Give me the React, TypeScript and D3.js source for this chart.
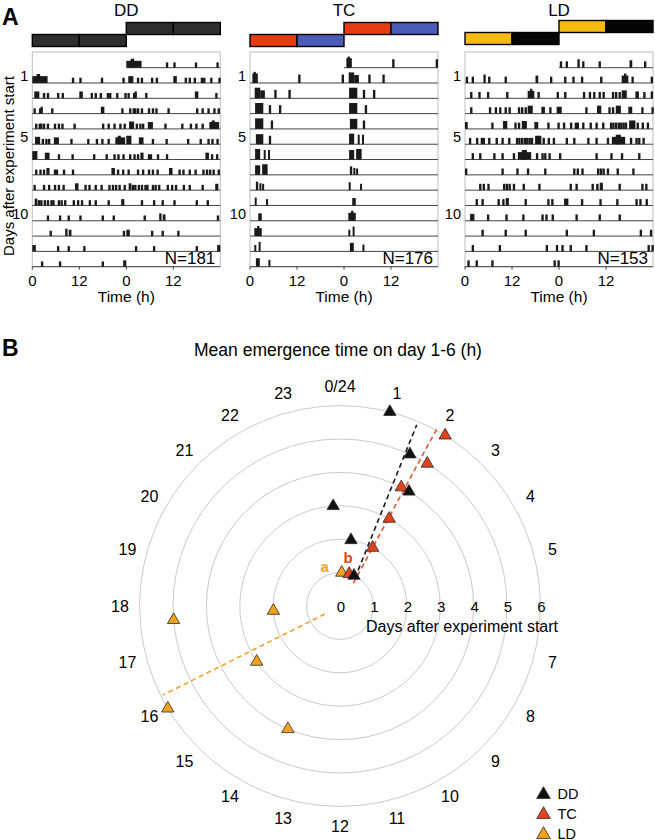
import React from "react";
import * as d3 from "d3";

// ---------- Panel A data: activity bouts per day, [hour, widthHours, level] or hour (thin tick) ----------
type Bar = number | [number, number, number];

const DD_DAYS: Bar[][] = [
  [[0, 3.9, 1.3], [1.1, 0.9, 1.7], 10.1, 12, 17.5, 23],
  [[0.5, 1.3, 1.3], 2.7, 3.7, 6.3, 7.5, [12, 0.9, 1.3], 14.9, 15.9, 17.2, 19, 19.6, 21.4, 23.5],
  [0.3, 1.7, [2.1, 0.6, 1.3], 4.8, [17.5, 0.9, 1.3], 22.7],
  [0.7, 1.6, 2, 2.7, 3.7, 5.5, 6.5, 7.4, 10.5, 17.8, 19.2, 20.7, 22.2, 23.3],
  [[0.7, 1.3, 1.4], 2.4, 3.3, 4, [5.5, 1.3, 1.3], 9.7, 14, 16.2, 17.6, 19.2, [21.2, 2.5, 1.3], [21.8, 0.8, 1.6]],
  [[0, 1.3, 1.6], [3.2, 1.2, 1.3], 6.5, 10, 15.5, 18.7, 20.7, 21.7, 23],
  [0.7, 1.8, 2.7, [3.6, 0.8, 1.3], 5.5, 6, 7.8, 10.1, [20.2, 0.9, 1.3], 21.6, 22.9],
  [0.3, 2.7, 4, 5.5, 6.5, 7.7, [10.9, 0.9, 1.3], 13.3, 14.3, 15.9, 17.4, 19.4, 20.3, 21.1, 22, 23.3],
  [[0.6, 0.7, 1.3], 1.4, 2, 2.9, 3.7, 4.6, 5.1, 6.5, 7.2, 8.1, 10.3, 11.4, 12.4, 14.4, 15.9, 19.2, [22.7, 0.8, 1.2]],
  [3.7, 6.8, 9, 12, 17.7, 20.5],
  [4.4, [8.4, 0.6, 1.4], [9.3, 0.7, 1.2], 23.1],
  [[0, 0.9, 1.2], 6.3, 9, 13],
  [2.2, 6.8, 17.7, [23.2, 0.8, 1.2]],
];

const TC_DAYS: Bar[][] = [
  [[0.6, 1.4, 1.8], [0.9, 0.6, 2.1], 12.3, 23.4],
  [[1.2, 1.4, 2], [2.6, 1.2, 1.5], 6.2, 9.8],
  [[1.3, 2.1, 2], 4.8, 7.4],
  [[1.3, 2.1, 2], 5.3],
  [[1.5, 1.9, 1.9], 4.8],
  [[1.3, 1.3, 2], [3.5, 0.5, 1.8], [4.6, 0.5, 1.8]],
  [[1.3, 1.3, 1.8], [3.1, 1.4, 2]],
  [[1.5, 0.6, 1.6], [2.4, 0.5, 1.3], [3.1, 0.5, 1.2]],
  [[1.2, 0.5, 1.5], [4.1, 0.5, 1.2]],
  [[2.1, 0.9, 1.4]],
  [[1.1, 1.9, 1.5], [1.8, 0.6, 1.9]],
  [[1.1, 0.5, 1.2], [2.2, 0.5, 1.8]],
  [[1.5, 1, 1.6], [4.7, 0.5, 1.3]],
];

const LD_DAYS: Bar[][] = [
  [0.2, 1.7, [4.7, 0.6, 1.6], 5.9, 10.1, [18, 0.7, 1.4], 21.7],
  [1.3, 3.4, 5.6, 10.5, [16, 1.7, 1.4], [16.6, 0.6, 1.8], 18.5, 23.4],
  [1.3, 6.1, 7.6, 8.7, 10.1, 11.1, 13.5, 14.3, 15.2, [16, 1.3, 1.5], [19.5, 0.9, 1.3], 21.5, [23.4, 0.6, 1.3]],
  [[0, 0.7, 1.3], 6.7, [9.7, 1.1, 1.5], 12.6, 13.5, [14.5, 1.3, 1.5], [17.7, 1, 1.3], 21, 23.6],
  [1, 2.8, 4, 4.5, 5.9, 7.8, 9.3, 11, 13, 13.6, 14.3, 15, 15.6, 16.2, 16.8, [17.9, 1.6, 1.6], 19.8, 21.1, 22.4],
  [1.7, 3.6, 7.2, 9.3, 12.2, [13.5, 3.4, 1.4], [14.5, 1.3, 1.8], 18.1, 19.5, 20.2, 21.3],
  [[0, 0.6, 1.2], 9.3, 13.1, 15.8, 20.2],
  [3.6, 4.5, 5.7, 9.7, 10.4, 11.1, 12.2, 14.7, 18.7],
  [2.7, 4.2, 8.3, 9.5, [10.4, 0.8, 1.4], 15.2, 21, 22],
  [[1.3, 1.1, 1.3], 5.6, 10.3, 14.6, 19.5, 20.5, 22.1],
  [4.2, 10.1, 15.2],
  [1.7, 8.6, 20.6, 23.2],
  [0.6, 2.7, 6.7, 22.6, 23.6],
];

const PANEL_NAMES = ["DD", "TC", "LD"];
const PANEL_N = [181, 176, 153];
const PANEL_DATA = [DD_DAYS, TC_DAYS, LD_DAYS];
const PANEL_PHASE_COLORS = [
  ["#2e2e2e", "#2e2e2e"],
  ["#e63c14", "#4b5cb6"],
  ["#f6b90f", "#050505"],
];
const TIME_TICKS = [0, 12, 24, 36];
const TIME_TICK_LABELS = ["0", "12", "0", "12"];
const ROW_LABELS: [number, string][] = [[1, "1"], [5, "5"], [10, "10"]];
const N_ROWS = 14;

// ---------- Panel B data ----------
const DAYS = [1, 2, 3, 4, 5, 6];
const DD_HOURS = [1.65, 0.63, 23.74, 2.07, 1.65, 0.96];
const TC_HOURS = [1.06, 1.95, 1.96, 1.82, 2.1, 2.11];
const LD_HOURS = [0.2, 17.73, 15.75, 13.53, 17.68, 15.95];
const DD_FIT: [number, number][] = [[0.95, 1.88], [5.89, 1.53]];
const TC_FIT: [number, number][] = [[0.79, 2.03], [6.03, 1.91]];
const LD_FIT: [number, number][] = [[0.51, 16.13], [5.94, 16.22]];
const HOUR_TICKS = d3.range(0, 24).filter((h) => h !== 6);
const DAY_TICKS = [0, 1, 2, 3, 4, 5, 6];
const GROUPS = ["DD", "TC", "LD"];

const FONT = "'Liberation Sans', Arial, Helvetica, sans-serif";
const COL = { DD: "#111111", TC: "#e2421c", LD: "#f2a31b" };

function Actogram({ idx }: { idx: number }) {
  const x0s = [32.3, 250, 465];
  const x0 = x0s[idx];
  const days = PANEL_DATA[idx];
  const x = d3.scaleLinear().domain([0, 48]).range([x0, x0 + 188]);
  const y = d3.scaleLinear().domain([0, N_ROWS - 1]).range([67.7, 266.7]);
  const H = 5.3;
  const defLevel = idx === 1 ? 1.6 : idx === 2 ? 1.2 : 1;
  const barTop = idx === 2 ? 20.5 : 22.5;
  const phase = PANEL_PHASE_COLORS[idx];

  const drawDay = (day: Bar[], offset: number, row: number, key: string) =>
    day.map((b, i) => {
      const [h, w, lv] = typeof b === "number" ? [b, 0.6, defLevel] : b;
      const bx = x(offset + h);
      const bw = Math.max(2, x(offset + h + w) - bx);
      const bh = lv * H;
      return <rect key={key + i} x={bx} y={y(row) - bh} width={bw} height={bh} fill="#1a1a1a" />;
    });

  return (
    <g>
      <text x={x(24)} y={16} textAnchor="middle" fontSize={17} fontFamily={FONT}>
        {PANEL_NAMES[idx]}
      </text>
      {/* light regime bars */}
      {[0, 1].map((half) =>
        [0, 1].map((seg) => (
          <rect
            key={`p${half}${seg}`}
            x={x(half * 24 + seg * 12)}
            y={barTop + (half === 0 ? 12 : 0)}
            width={x(12) - x(0)}
            height={12}
            fill={phase[seg]}
            stroke="#000"
            strokeWidth={1.4}
          />
        ))
      )}
      {/* frame */}
      <rect x={x(0)} y={52} width={x(48) - x(0)} height={y(N_ROWS - 1) - 52} fill="none" stroke="#bdbdbd" strokeWidth={1} />
      {/* baselines */}
      {d3.range(N_ROWS).map((r) => (
        <line key={"b" + r} x1={r === 0 ? x(24) : x(0)} x2={x(48)} y1={y(r)} y2={y(r)} stroke="#444" strokeWidth={1} />
      ))}
      {/* bars (double plotted) */}
      {d3.range(N_ROWS).map((r) => (
        <g key={"r" + r}>
          {r >= 1 && days[r - 1] ? drawDay(days[r - 1], 0, r, `L${r}-`) : null}
          {r < N_ROWS - 1 && days[r] ? drawDay(days[r], 24, r, `R${r}-`) : null}
        </g>
      ))}
      {/* ticks */}
      {TIME_TICKS.map((t, i) => (
        <g key={"t" + i}>
          <line x1={x(t)} x2={x(t)} y1={y(N_ROWS - 1)} y2={y(N_ROWS - 1) + 3} stroke="#444" />
          <text x={x(t)} y={286} textAnchor="middle" fontSize={15} fontFamily={FONT}>
            {TIME_TICK_LABELS[i]}
          </text>
        </g>
      ))}
      <text x={x(24)} y={302} textAnchor="middle" fontSize={15.5} fontFamily={FONT}>
        Time (h)
      </text>
      {ROW_LABELS.map(([r, lab]) => (
        <text key={"rl" + r} x={x0 - 4} y={y(r) - 7} textAnchor="end" dominantBaseline="central" fontSize={14.5} fontFamily={FONT}>
          {lab}
        </text>
      ))}
      <text x={x(48) - 5} y={263.5} textAnchor="end" fontSize={17} fontFamily={FONT}>
        {`N=${PANEL_N[idx]}`}
      </text>
    </g>
  );
}

function Polar() {
  const cx = 340;
  const cy = 606;
  const r = d3.scaleLinear().domain([0, 6]).range([0, 200.4]);
  const ang = d3.scaleLinear().domain([0, 24]).range([0, 2 * Math.PI]);
  const pos = (day: number, hour: number): [number, number] => [
    cx + r(day) * Math.sin(ang(hour)),
    cy - r(day) * Math.cos(ang(hour)),
  ];
  const tri = d3.symbol().type(d3.symbolTriangle).size(66)() as string;
  const triL = d3.symbol().type(d3.symbolTriangle).size(80)() as string;
  const line = d3.line();
  const series: [string, number[], [number, number][]][] = [
    ["LD", LD_HOURS, LD_FIT],
    ["TC", TC_HOURS, TC_FIT],
    ["DD", DD_HOURS, DD_FIT],
  ];
  const aPos = pos(DAYS[0], LD_HOURS[0]);
  const bPos = pos(DAYS[0], TC_HOURS[0]);
  return (
    <g>
      <text x={cx - 2} y={356} textAnchor="middle" fontSize={17.5} fontFamily={FONT}>
        Mean emergence time on day 1-6 (h)
      </text>
      {DAY_TICKS.filter((d) => d > 0).map((d) => (
        <circle key={"c" + d} cx={cx} cy={cy} r={r(d)} fill="none" stroke="#cacaca" strokeWidth={1} />
      ))}
      {HOUR_TICKS.map((h) => {
        const [tx, ty] = [cx + 220 * Math.sin(ang(h)), cy - 220 * Math.cos(ang(h))];
        return (
          <text key={"h" + h} x={tx} y={ty} textAnchor="middle" dominantBaseline="central" fontSize={16} fontFamily={FONT}>
            {h === 0 ? "0/24" : String(h)}
          </text>
        );
      })}
      {DAY_TICKS.map((d) => (
        <text key={"d" + d} x={cx + r(d) + 1} y={cy} textAnchor="middle" dominantBaseline="central" fontSize={15} fontFamily={FONT}>
          {d}
        </text>
      ))}
      <text x={cx + 122} y={632} textAnchor="middle" fontSize={16} fontFamily={FONT}>
        Days after experiment start
      </text>
      {series.map(([g, , fit]) => (
        <path
          key={"f" + g}
          d={line(fit.map(([d, h]) => pos(d, h))) as string}
          fill="none"
          stroke={g === "DD" ? "#1a1a1a" : g === "TC" ? "#e8552c" : "#f4a22a"}
          strokeWidth={1.6}
          strokeDasharray="5,3.5"
        />
      ))}
      {series.map(([g, hours]) =>
        hours.map((h, i) => {
          const [px, py] = pos(DAYS[i], h);
          return (
            <path
              key={g + i}
              d={tri}
              transform={`translate(${px},${py})`}
              fill={(COL as any)[g]}
              stroke="#2a2a2a"
              strokeWidth={0.8}
            />
          );
        })
      )}
      <text x={aPos[0] - 17} y={aPos[1] - 6} textAnchor="middle" dominantBaseline="central" fontSize={15} fontWeight="bold" fill={COL.LD} fontFamily={FONT}>
        a
      </text>
      <text x={bPos[0] - 1} y={bPos[1] - 16} textAnchor="middle" dominantBaseline="central" fontSize={15} fontWeight="bold" fill={COL.TC} fontFamily={FONT}>
        b
      </text>
      {GROUPS.map((g, i) => (
        <g key={"lg" + g} transform={`translate(543.5,${794.5 + i * 20})`}>
          <path d={triL} fill={(COL as any)[g]} stroke="#2a2a2a" strokeWidth={0.8} />
          <text x={14} y={-1} dominantBaseline="central" fontSize={14.5} fontFamily={FONT}>
            {g}
          </text>
        </g>
      ))}
    </g>
  );
}

export default function App() {
  return (
    <svg
      width={655}
      height={840}
      viewBox="0 0 655 840"
      style={{ position: "absolute", left: 0, top: 0, background: "#fff" }}
    >
      <rect width={655} height={840} fill="#fff" />
      <text x={2} y={25} fontSize={23} fontWeight="bold" fontFamily={FONT}>
        A
      </text>
      <text x={2} y={356} fontSize={23} fontWeight="bold" fontFamily={FONT}>
        B
      </text>
      <text
        transform="translate(13.5,166) rotate(-90)"
        textAnchor="middle"
        fontSize={15}
        fontFamily={FONT}
      >
        Days after experiment start
      </text>
      {[0, 1, 2].map((i) => (
        <Actogram key={i} idx={i} />
      ))}
      <Polar />
    </svg>
  );
}
